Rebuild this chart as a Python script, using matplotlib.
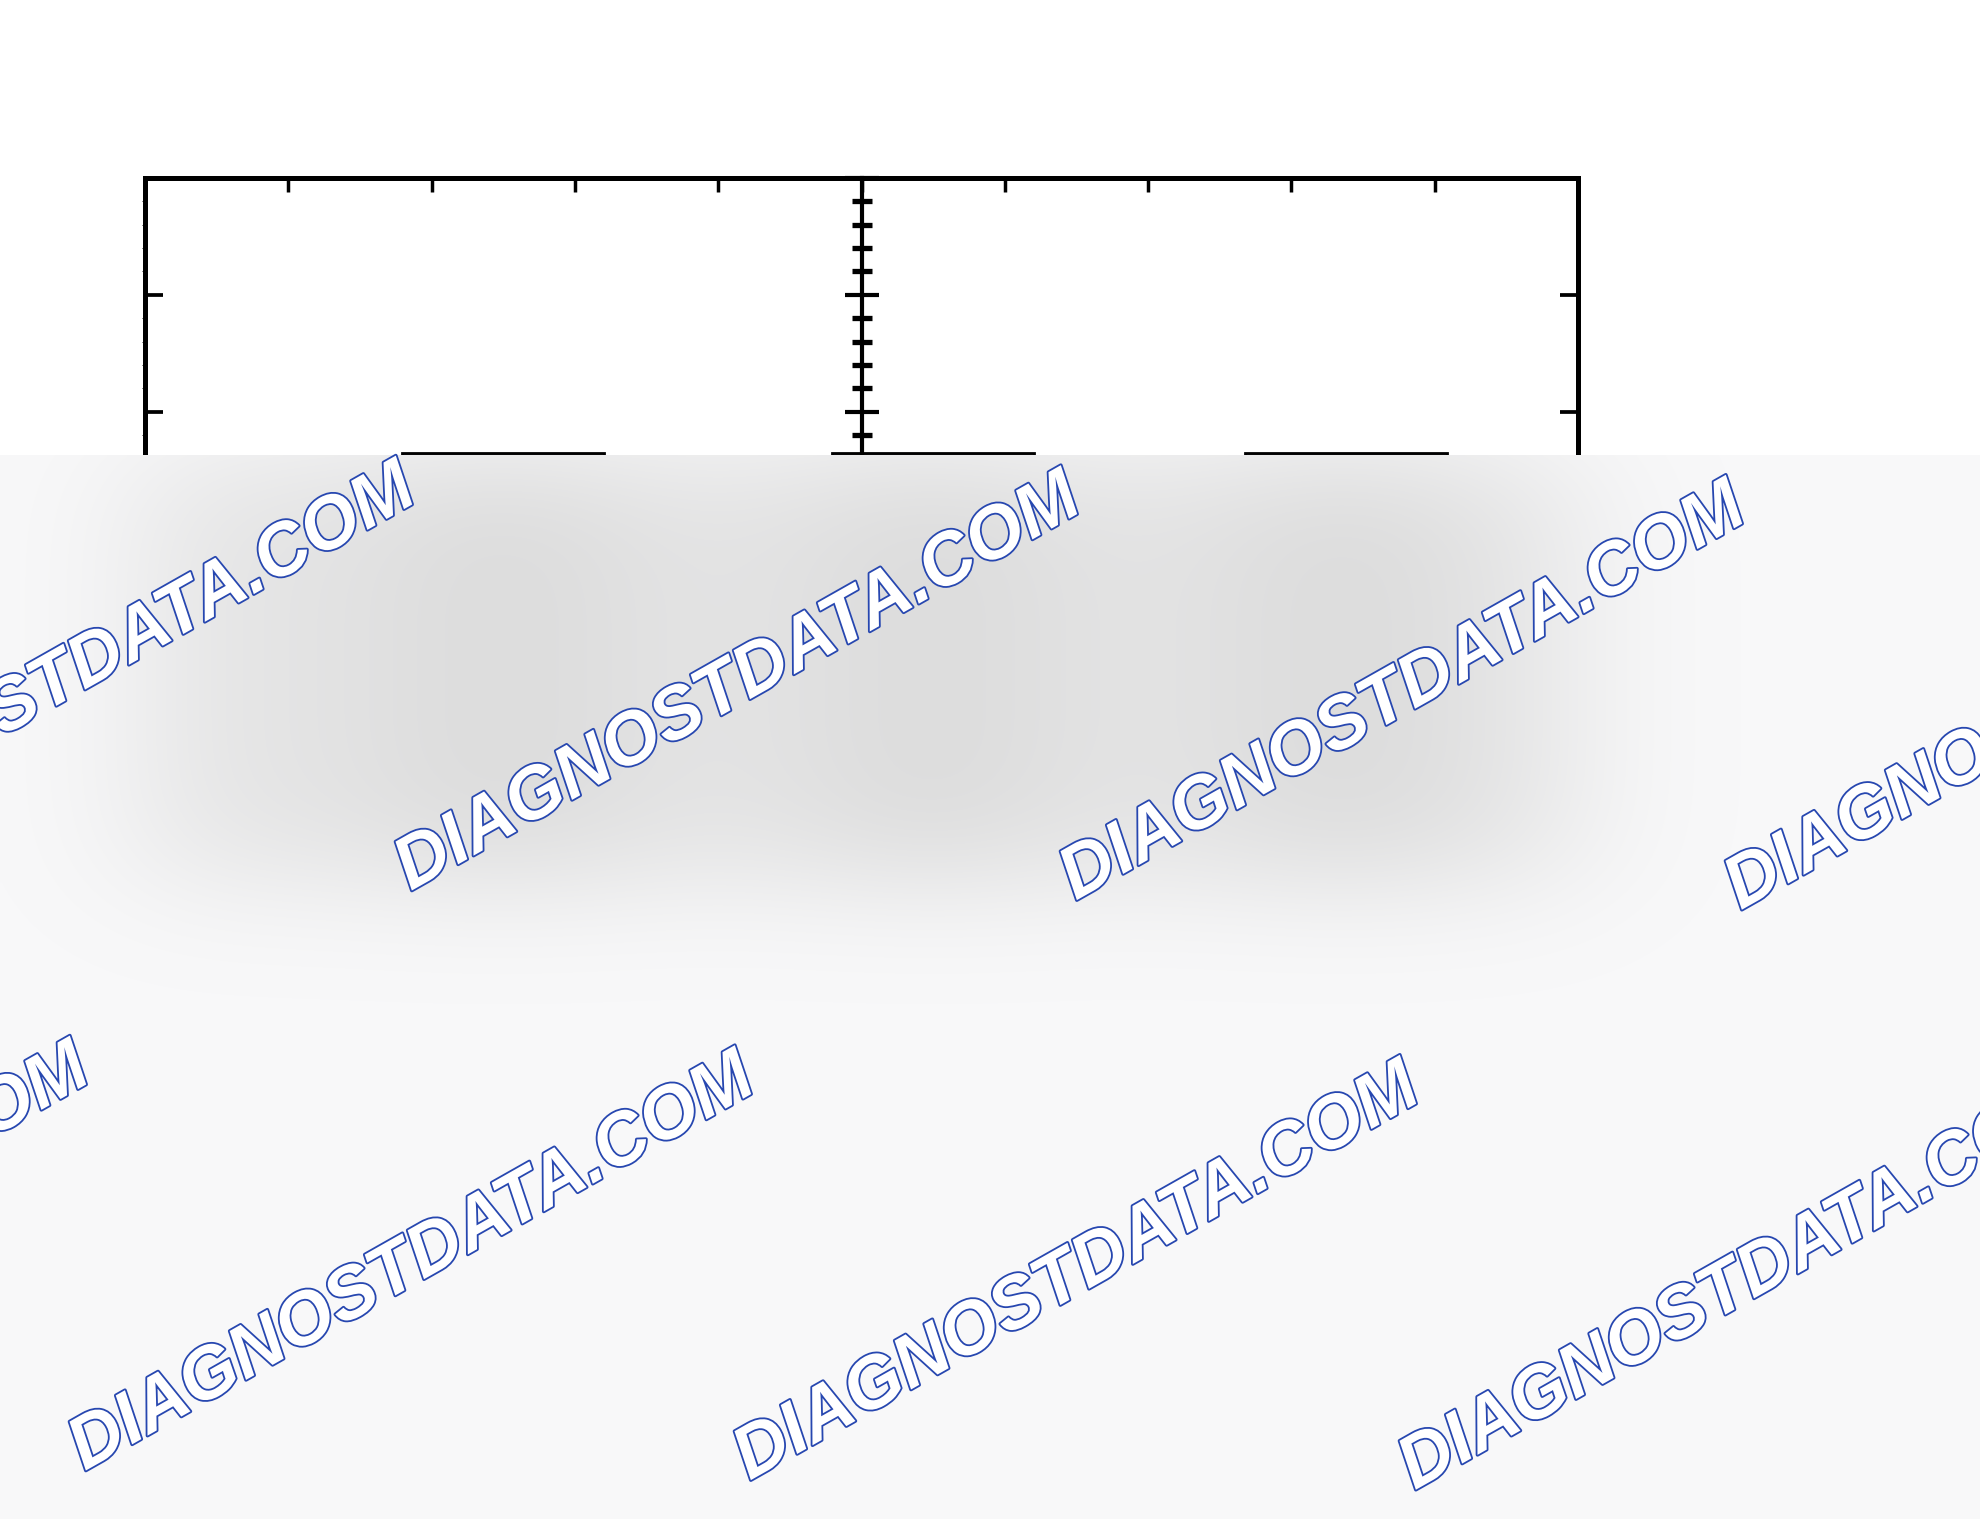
import numpy as np
import matplotlib
matplotlib.use("Agg")
import matplotlib.pyplot as plt
from matplotlib.ticker import MultipleLocator
import matplotlib.patheffects as pe

# bar data (only the tops are readable, the rest sits under the blur)
bar_x = [-2.5, 0.5, 3.38]
bar_heights = [3.65, 3.65, 3.65]
bar_width = 1.41

x_limits = (-5, 5)
y_limits = (0, 6)

watermark = "DIAGNOSTDATA.COM"

W, H = 1980, 1519
fig = plt.figure(figsize=(W / 100, H / 100), dpi=100)
fig.patch.set_facecolor("white")

# main frame
ax = fig.add_axes([145 / W, 1 - 879 / H, (1578 - 145) / W, (879 - 178) / H], zorder=1)
ax.bar(bar_x, bar_heights, width=bar_width, color="#4d4d4d", edgecolor="black", linewidth=2)
ax.set_xlim(*x_limits)
ax.set_ylim(*y_limits)
ax.xaxis.set_major_locator(MultipleLocator(1))
ax.yaxis.set_major_locator(MultipleLocator(1))
for s in ax.spines.values():
    s.set_linewidth(3.6)
ax.tick_params(axis="x", direction="in", top=True, bottom=True, length=10, width=2.5,
               labelbottom=False, labeltop=False)
ax.tick_params(axis="y", direction="in", left=True, right=True, length=13, width=2.7,
               labelleft=False, labelright=False)

# y axis crossing at x = 0
cax = fig.add_axes(ax.get_position(), zorder=2, sharex=ax, sharey=ax)
cax.patch.set_alpha(0)
for name in ["top", "right", "bottom"]:
    cax.spines[name].set_visible(False)
cax.spines["left"].set_position(("data", 0))
cax.spines["left"].set_linewidth(3)
cax.yaxis.set_minor_locator(MultipleLocator(0.2))
cax.tick_params(axis="x", bottom=False, top=False, labelbottom=False)
cax.tick_params(axis="y", which="major", direction="inout", length=25, width=3, labelleft=False)
cax.tick_params(axis="y", which="minor", direction="inout", length=15, width=3.8)

# blurred lower part of the picture
blur_top = 455
ov = fig.add_axes([0, 0, 1, 1 - blur_top / H], zorder=10)
ov.set_axis_off()
ov.set_xlim(0, W)
ov.set_ylim(0, H - blur_top)

step = 4
ny, nx = H // step, W // step
field = np.zeros((ny, nx))

top_val = max(bar_heights)
(bx0, by0), (bx1, by1) = ax.transData.transform([(x_limits[0], y_limits[0]), (x_limits[1], top_val)])
field[int(by0 / step):int(by1 / step), int(bx0 / step):int(bx1 / step)] = 0.7

for bx, bh in zip(bar_x, bar_heights):
    (px0, py0), (px1, py1) = ax.transData.transform([(bx - bar_width / 2, 0), (bx + bar_width / 2, bh)])
    field[int(py0 / step):int(py1 / step), int(px0 / step):int(px1 / step)] = 1.0


def gauss(sigma):
    k = np.arange(-3 * sigma, 3 * sigma + 1)
    g = np.exp(-k ** 2 / (2 * sigma ** 2))
    return g / g.sum()


kx, ky = gauss(20), gauss(14)
field = np.apply_along_axis(lambda r: np.convolve(r, kx, mode="same"), 1, field)
field = np.apply_along_axis(lambda c: np.convolve(c, ky, mode="same"), 0, field)
field = field[:(H - blur_top) // step]

bg = np.array([0.974, 0.974, 0.978])
dark = np.array([0.86, 0.86, 0.86])
img = bg[None, None, :] - field[:, :, None] * (bg - dark)[None, None, :]
ov.imshow(img, extent=(0, W, 0, H - blur_top), origin="lower", aspect="auto",
          interpolation="bilinear")

# watermark grid
row_starts = [(73, 674), (-253, 1254)]
for sx, sy in row_starts:
    for i in range(4):
        cx = sx + 665 * i
        cy = sy + 9.6 * i
        fig.text(cx / W, 1 - cy / H, watermark, ha="center", va="center", rotation=29.5,
                 rotation_mode="anchor", fontsize=53, fontweight="bold", style="italic",
                 family="Liberation Sans", color="white", zorder=20,
                 path_effects=[pe.withStroke(linewidth=2.6, foreground="#2747b0")])

fig.savefig("out.png", dpi=100)
